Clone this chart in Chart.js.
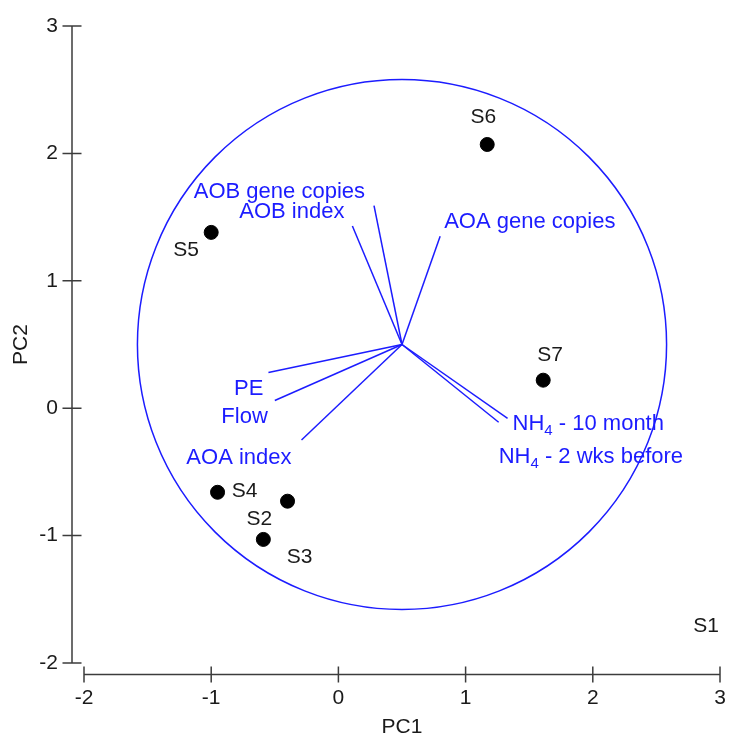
<!DOCTYPE html>
<html>
<head>
<meta charset="utf-8">
<script src="https://cdn.jsdelivr.net/npm/chart.js@4/dist/chart.umd.min.js"></script>
<style>
  html, body { margin: 0; padding: 0; background: #ffffff; }
  #wrap { width: 730px; height: 738px; }
</style>
</head>
<body>
<div id="wrap"><canvas id="c" width="730" height="738"></canvas></div>
<script>
// Sample scores on the first two principal components
const sampleNames = ['S1', 'S2', 'S3', 'S4', 'S5', 'S6', 'S7'];
const samplePC1 = [2.89, -0.59, -0.40, -0.95, -1.00, 1.17, 1.61];
const samplePC2 = [-1.70, -1.03, -0.73, -0.66, 1.38, 2.07, 0.22];
const sampleMarked = [false, true, true, true, true, true, true];

// Variable loadings (vector tips), all drawn from a common origin
const varNames = ['AOB gene copies', 'AOB index', 'AOA gene copies', 'PE', 'Flow', 'AOA index', 'NH4 - 10 month', 'NH4 - 2 wks before'];
const loadPC1 = [0.28, 0.11, 0.80, -0.55, -0.50, -0.29, 1.33, 1.26];
const loadPC2 = [1.59, 1.43, 1.35, 0.28, 0.06, -0.25, -0.08, -0.11];
const vectorOrigin = [0.5, 0.5];
const circleRadius = 2.08;

// Axes
const axisTicks = [-2, -1, 0, 1, 2, 3];
const xTitle = 'PC1';
const yTitle = 'PC2';

// Styling
const BLUE = '#1c1cff';
const INK = '#1a1a1a';
const AXIS = '#3c3c3c';
const FONT = '"Liberation Sans", Arial, sans-serif';
const FS = 21;
const VFS = 22;

// label placement (pixel offsets from the point / vector tip)
const sampleLabelOffset = [[0, 0], [-4, -22], [12, 54], [27, -3], [-25, 16], [-4, -29], [7, -27]];
const varLabelStyle = [
  { align: 'right', dx: -9, dy: -8 },
  { align: 'right', dx: -8, dy: -8 },
  { align: 'left', dx: 4, dy: -8 },
  { align: 'right', dx: -5, dy: 22 },
  { align: 'right', dx: -7, dy: 22 },
  { align: 'right', dx: -10, dy: 24 },
  { align: 'left', dx: 5, dy: 12 },
  { align: 'left', dx: 0, dy: 41 }
];

const datasets = [];
varNames.forEach((name, i) => {
  datasets.push({
    type: 'line',
    label: name,
    data: [{ x: vectorOrigin[0], y: vectorOrigin[1] }, { x: loadPC1[i], y: loadPC2[i] }],
    borderColor: BLUE,
    borderWidth: 1.5,
    pointRadius: 0,
    fill: false,
    tension: 0
  });
});
datasets.push({
  type: 'scatter',
  label: 'samples',
  data: samplePC1.map((x, i) => ({ x: x, y: samplePC2[i] })),
  backgroundColor: '#000000',
  borderColor: '#000000',
  pointRadius: sampleMarked.map(m => (m ? 7 : 0)),
  pointHoverRadius: sampleMarked.map(m => (m ? 7 : 0))
});

// draws text with a subscript digit, e.g. NH4
function drawRich(ctx, text, x, y, align) {
  const m = text.match(/^(NH)(\d)(.*)$/);
  const big = VFS + 'px ' + FONT;
  const small = '15px ' + FONT;
  if (!m) {
    ctx.font = big;
    ctx.textAlign = align;
    ctx.fillText(text, x, y);
    return;
  }
  ctx.font = big;
  const w1 = ctx.measureText(m[1]).width;
  const w3 = ctx.measureText(m[3]).width;
  ctx.font = small;
  const w2 = ctx.measureText(m[2]).width;
  const total = w1 + w2 + w3;
  const sx = align === 'right' ? x - total : (align === 'center' ? x - total / 2 : x);
  ctx.textAlign = 'left';
  ctx.font = big;
  ctx.fillText(m[1], sx, y);
  ctx.font = small;
  ctx.fillText(m[2], sx + w1, y + 5);
  ctx.font = big;
  ctx.fillText(m[3], sx + w1 + w2, y);
}

// keep the plot area exactly where the layout padding puts it
function fixedBox(size, horizontal) {
  return s => {
    if (horizontal) s.height = size; else s.width = size;
    s.paddingTop = 0; s.paddingBottom = 0; s.paddingLeft = 0; s.paddingRight = 0;
  };
}

const biplot = {
  id: 'biplot',
  beforeDatasetsDraw(chart) {
    const { ctx, scales: { x, y } } = chart;
    const cx = x.getPixelForValue(vectorOrigin[0]);
    const cy = y.getPixelForValue(vectorOrigin[1]);
    const rx = x.getPixelForValue(vectorOrigin[0] + circleRadius) - cx;
    const ry = cy - y.getPixelForValue(vectorOrigin[1] + circleRadius);
    ctx.save();
    ctx.strokeStyle = BLUE;
    ctx.lineWidth = 1.5;
    ctx.beginPath();
    ctx.ellipse(cx, cy, rx, ry, 0, 0, Math.PI * 2);
    ctx.stroke();
    ctx.restore();
  },
  afterDatasetsDraw(chart) {
    const { ctx, chartArea, scales: { x, y } } = chart;
    ctx.save();
    // detached axes: y axis left of the plot, x axis below it
    ctx.strokeStyle = AXIS;
    ctx.lineWidth = 1.5;
    const yAxisX = chartArea.left - 12;
    const xAxisY = chartArea.bottom + 11.5;
    ctx.beginPath();
    ctx.moveTo(yAxisX, y.getPixelForValue(axisTicks[0]));
    ctx.lineTo(yAxisX, y.getPixelForValue(axisTicks[axisTicks.length - 1]));
    axisTicks.forEach(t => {
      const py = y.getPixelForValue(t);
      ctx.moveTo(yAxisX - 9.5, py);
      ctx.lineTo(yAxisX + 9.5, py);
    });
    ctx.moveTo(x.getPixelForValue(axisTicks[0]), xAxisY);
    ctx.lineTo(x.getPixelForValue(axisTicks[axisTicks.length - 1]), xAxisY);
    axisTicks.forEach(t => {
      const px = x.getPixelForValue(t);
      ctx.moveTo(px, xAxisY - 8);
      ctx.lineTo(px, xAxisY + 8);
    });
    ctx.stroke();

    // sample labels
    ctx.fillStyle = INK;
    ctx.font = FS + 'px ' + FONT;
    ctx.textAlign = 'center';
    ctx.textBaseline = 'alphabetic';
    sampleNames.forEach((name, i) => {
      const px = x.getPixelForValue(samplePC1[i]) + sampleLabelOffset[i][0];
      const py = y.getPixelForValue(samplePC2[i]) + sampleLabelOffset[i][1];
      ctx.fillText(name, px, py + 7.5);
    });

    // variable labels
    ctx.fillStyle = BLUE;
    varNames.forEach((name, i) => {
      const s = varLabelStyle[i];
      const px = x.getPixelForValue(loadPC1[i]) + s.dx;
      const py = y.getPixelForValue(loadPC2[i]) + s.dy;
      drawRich(ctx, name, px, py, s.align);
    });
    ctx.restore();
  }
};

new Chart(document.getElementById('c'), {
  type: 'scatter',
  data: { datasets: datasets },
  plugins: [biplot],
  options: {
    responsive: false,
    animation: false,
    devicePixelRatio: 1,
    layout: { padding: { top: 26, right: 10, left: 0, bottom: 0 } },
    plugins: { legend: { display: false }, tooltip: { enabled: false } },
    scales: {
      x: {
        type: 'linear',
        min: axisTicks[0],
        max: axisTicks[axisTicks.length - 1],
        afterFit: fixedBox(75, true),
        afterBuildTicks: s => { s.ticks = axisTicks.map(v => ({ value: v })); },
        grid: { display: false, drawTicks: false },
        border: { display: false },
        ticks: { color: INK, padding: 23, font: { family: FONT, size: FS } },
        title: { display: true, text: xTitle, color: INK, padding: 0, font: { family: FONT, size: FS, lineHeight: 1 } }
      },
      y: {
        type: 'linear',
        min: axisTicks[0],
        max: axisTicks[axisTicks.length - 1],
        afterFit: fixedBox(84, false),
        afterBuildTicks: s => { s.ticks = axisTicks.map(v => ({ value: v })); },
        grid: { display: false, drawTicks: false },
        border: { display: false },
        ticks: { color: INK, padding: 26, font: { family: FONT, size: FS } },
        title: { display: true, text: yTitle, color: INK, padding: { top: 11, bottom: 0 }, font: { family: FONT, size: FS, lineHeight: 1 } }
      }
    }
  }
});
</script>
</body>
</html>
